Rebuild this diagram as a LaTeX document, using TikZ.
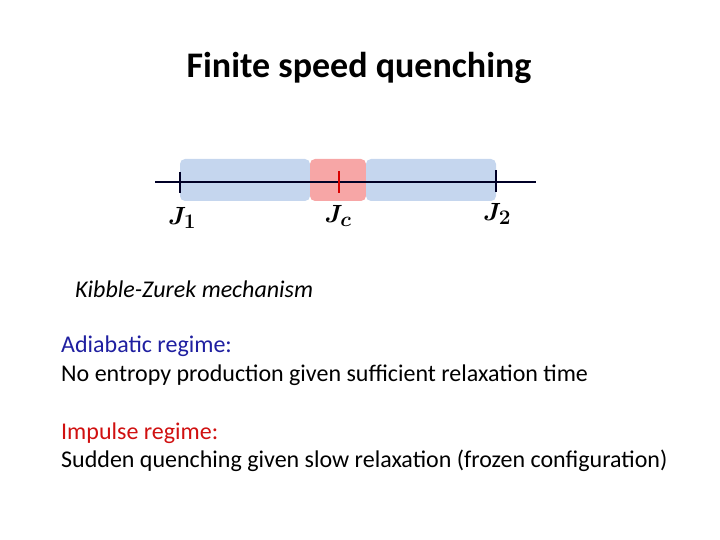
\documentclass[tikz,border=0pt]{standalone}
\usepackage{fontspec}
\setmainfont{Carlito}
\definecolor{bluebox}{HTML}{C5D6EE}
\definecolor{redbox}{HTML}{F7A6A6}
\definecolor{adia}{HTML}{1F1FA0}
\definecolor{imp}{HTML}{D01010}
\begin{document}
\begin{tikzpicture}[x=1pt,y=-1pt,
  box/.style={rounded corners=5pt,draw=none},
  txt/.style={anchor=west,inner sep=0pt,font=\fontsize{24}{28}\selectfont},
  jlab/.style={font=\fontsize{28}{32}\selectfont\boldmath},
  tick/.style={line width=2pt}]
\useasboundingbox (0,0) rectangle (720,540);
\node[font=\fontsize{36}{40}\selectfont\bfseries] (title) at (359,68) {Finite speed quenching};
\fill[bluebox,box] (180,159) rectangle (310,201);
\fill[redbox,box] (310,159) rectangle (366,201);
\fill[bluebox,box] (366,159) rectangle (496,201);
\coordinate (L) at (155,182);
\coordinate (R) at (536,182);
\draw[line width=2.2pt,black!85!blue] (L) -- (R);
\draw[tick,black!85!blue] (180,172) -- (180,193);
\draw[tick,black!85!blue] (496,170) -- (496,192);
\draw[tick,red!85!black] (339,171) -- (339,193);
\node[jlab] (j1) at (182,218) {$J_1$};
\node[jlab] (jc) at (338,216) {$J_c$};
\node[jlab] (j2) at (497,214) {$J_2$};
\node[txt,font=\fontsize{24}{28}\selectfont\itshape] (kz) at (75,289) {Kibble-Zurek mechanism};
\node[txt,text=adia] (a1) at (61,346) {Adiabatic regime:};
\node[txt] (a2) at (61,375) {No entropy production given sufficient relaxation time};
\node[txt,text=imp] (i1) at (61,433) {Impulse regime:};
\node[txt] (i2) at (61,461) {Sudden quenching given slow relaxation (frozen configuration)};
\end{tikzpicture}
\end{document}
